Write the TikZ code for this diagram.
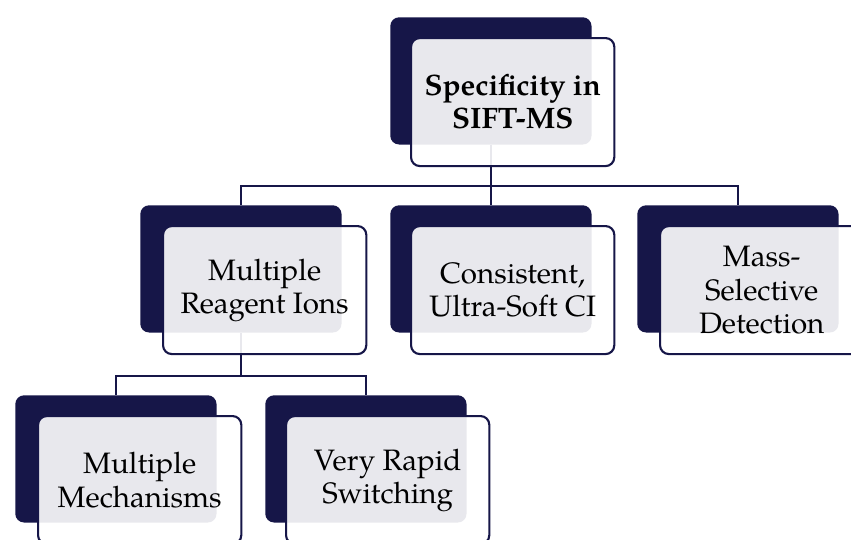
\documentclass[tikz,border=0pt]{standalone}
\usepackage{fontspec}
\setmainfont{texgyrepagella}[Extension=.otf, UprightFont=*-regular, BoldFont=*-bold]
\usetikzlibrary{positioning}
\definecolor{navy}{RGB}{22,22,72}

\begin{document}
\begin{tikzpicture}[
    x=0.025cm, y=-0.025cm,
    back/.style={rectangle, fill=navy, rounded corners=0.22cm, anchor=north west,
                minimum width=5.03cm, minimum height=3.18cm, inner sep=0pt},
    front/.style={rectangle, draw=navy, line width=1.5pt, fill=white, fill opacity=0.9,
                text opacity=1, rounded corners=0.22cm, align=center, inner sep=1pt,
                minimum width=5.08cm, minimum height=3.2cm, font=\fontsize{21}{23.5}\selectfont},
    link/.style={draw=navy, line width=1.5pt}
]
    \useasboundingbox (0,0) rectangle (851,540);

    % back panels
    \node[back] (specback) at (390,17) {};
    \node[back] (reagback) at (140,205) {};
    \node[back] (softback) at (390,205) {};
    \node[back] (massback) at (637,205) {};
    \node[back] (mechback) at (15,395) {};
    \node[back] (switchback) at (265,395) {};

    % connectors
    \draw[link] (specback.south) -- ++(0,41) -| (reagback.north);
    \draw[link] (specback.south) -- ++(0,41) -| (softback.north);
    \draw[link] (specback.south) -- ++(0,41) -| (massback.north);
    \draw[link] (reagback.south) -- ++(0,43) -| (mechback.north);
    \draw[link] (reagback.south) -- ++(0,43) -| (switchback.north);

    % front panels
    \node[front, font=\fontsize{21}{23.5}\selectfont\bfseries,
          below right=0.5cm and 0.5cm of specback.north west] (spec) {Specificity in\\SIFT-MS};
    \node[front, below right=0.5cm and 0.55cm of reagback.north west] (reag) {Multiple\\Reagent Ions};
    \node[front, below right=0.5cm and 0.5cm of softback.north west] (soft) {Consistent,\\Ultra-Soft CI};
    \node[front, below right=0.5cm and 0.55cm of massback.north west] (mass) {Mass-\\Selective\\Detection};
    \node[front, below right=0.5cm and 0.55cm of mechback.north west] (mech) {Multiple\\Mechanisms};
    \node[front, below right=0.5cm and 0.5cm of switchback.north west] (switch) {Very Rapid\\Switching};
\end{tikzpicture}
\end{document}
